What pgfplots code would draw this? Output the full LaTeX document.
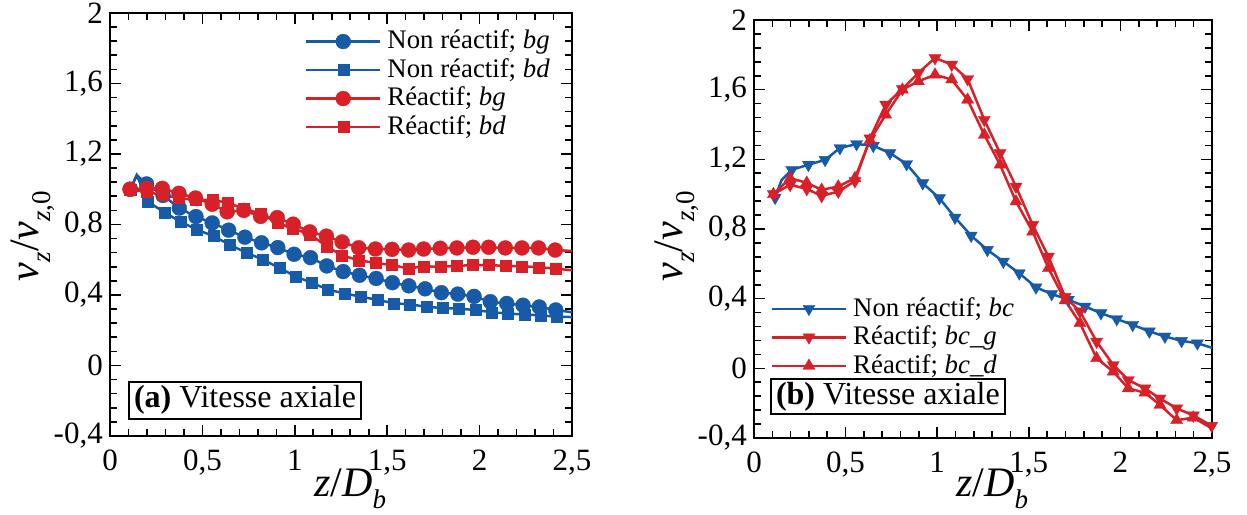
\documentclass[border=0pt]{standalone}
\usepackage{fontspec}
\setmainfont{Liberation Serif}
\usepackage{pgfplots}
\pgfplotsset{compat=1.18}
\usepackage{pgfplotstable}

\definecolor{cblue}{RGB}{22,90,168}
\definecolor{cred}{RGB}{215,32,40}
\newcommand{\tickfont}{\fontsize{31}{37}\selectfont}
\newcommand{\boxfont}{\fontsize{32}{38}\selectfont}
\newcommand{\labfont}{\fontsize{42}{50}\selectfont}
\newcommand{\legfont}{\fontsize{26.8}{32}\selectfont}
\newcommand{\sub}[1]{\raisebox{-12pt}{\fontsize{27}{32}\selectfont #1}}

% ---------- left panel ----------
\pgfplotstableread{
z v
0.110 1.000
0.145 1.080
0.198 1.030
0.287 0.965
0.375 0.893
0.465 0.845
0.553 0.809
0.642 0.768
0.730 0.728
0.820 0.696
0.908 0.669
0.996 0.631
1.085 0.612
1.173 0.565
1.262 0.533
1.350 0.512
1.440 0.494
1.528 0.470
1.617 0.452
1.705 0.435
1.793 0.413
1.882 0.405
1.970 0.392
2.058 0.362
2.147 0.352
2.235 0.342
2.323 0.332
2.412 0.315
2.500 0.302
}\nrbg
\pgfplotstableread{
z v
0.110 1.000
0.145 1.080
0.205 0.930
0.295 0.868
0.383 0.815
0.470 0.771
0.560 0.734
0.650 0.684
0.738 0.640
0.828 0.600
0.916 0.554
1.005 0.505
1.093 0.469
1.180 0.430
1.270 0.409
1.358 0.390
1.446 0.373
1.535 0.353
1.623 0.347
1.712 0.333
1.800 0.326
1.888 0.322
1.977 0.315
2.065 0.302
2.153 0.295
2.242 0.289
2.330 0.285
2.418 0.276
2.500 0.275
}\nrbd
\pgfplotstableread{
z v
0.108 1.000
0.198 1.005
0.283 1.005
0.373 0.977
0.463 0.950
0.553 0.915
0.634 0.872
0.724 0.880
0.815 0.846
0.905 0.839
0.991 0.802
1.081 0.758
1.171 0.734
1.256 0.701
1.346 0.668
1.436 0.661
1.526 0.659
1.616 0.655
1.697 0.661
1.787 0.665
1.877 0.667
1.964 0.671
2.049 0.671
2.139 0.667
2.229 0.667
2.319 0.667
2.409 0.655
2.500 0.650
}\rbg
\pgfplotstableread{
z v
0.108 1.000
0.198 0.985
0.283 0.967
0.373 0.950
0.463 0.940
0.553 0.940
0.634 0.924
0.724 0.890
0.815 0.862
0.905 0.809
0.991 0.777
1.081 0.745
1.171 0.677
1.256 0.624
1.346 0.597
1.436 0.582
1.526 0.570
1.616 0.550
1.697 0.563
1.787 0.560
1.877 0.565
1.964 0.570
2.049 0.570
2.139 0.565
2.229 0.563
2.319 0.558
2.409 0.550
2.500 0.540
}\rbd

% ---------- right panel ----------
\pgfplotstableread{
z v
0.115 0.980
0.150 1.080
0.206 1.140
0.297 1.169
0.388 1.197
0.469 1.265
0.560 1.288
0.651 1.278
0.742 1.236
0.833 1.173
0.921 1.063
1.012 0.977
1.097 0.866
1.185 0.762
1.274 0.680
1.361 0.613
1.448 0.546
1.539 0.465
1.625 0.427
1.716 0.394
1.807 0.355
1.894 0.317
1.980 0.283
2.067 0.250
2.158 0.212
2.243 0.183
2.334 0.158
2.420 0.144
2.500 0.118
}\nrbc
\pgfplotstableread{
z v
0.106 1.000
0.197 1.054
0.288 1.030
0.369 0.990
0.460 1.015
0.551 1.075
0.633 1.320
0.719 1.514
0.810 1.604
0.897 1.696
0.988 1.782
1.079 1.744
1.166 1.661
1.257 1.427
1.343 1.236
1.430 1.044
1.521 0.824
1.607 0.642
1.698 0.410
1.779 0.327
1.870 0.154
1.961 0.019
2.043 -0.067
2.134 -0.115
2.216 -0.173
2.307 -0.230
2.398 -0.270
2.498 -0.330
}\rbcg
\pgfplotstableread{
z v
0.106 1.000
0.197 1.092
0.288 1.065
0.369 1.025
0.460 1.044
0.551 1.092
0.633 1.310
0.719 1.456
0.810 1.600
0.897 1.648
0.988 1.686
1.079 1.658
1.166 1.542
1.257 1.341
1.343 1.169
1.430 0.958
1.521 0.785
1.607 0.575
1.698 0.390
1.779 0.260
1.870 0.058
1.961 -0.019
2.043 -0.115
2.134 -0.140
2.216 -0.210
2.307 -0.298
2.398 -0.283
2.500 -0.345
}\rbcd

\pgfplotsset{panel/.style={
  scale only axis,
  clip=false,
  xmin=0, xmax=2.5, ymin=-0.4, ymax=2,
  xtick={0,0.5,1,1.5,2,2.5},
  xticklabels={0,{0,5},1,{1,5},2,{2,5}},
  ytick={-0.4,0,0.4,0.8,1.2,1.6,2},
  yticklabels={{-0,4},0,{0,4},{0,8},{1,2},{1,6},2},
  minor x tick num=4,
  minor y tick num=4,
  tick align=inside,
  major tick length=11pt,
  minor tick length=7pt,
  axis line style={line width=2pt},
  tick style={line width=1.6pt, black},
  tick label style={font=\tickfont},
  yticklabel style={inner sep=0pt, anchor=east, xshift=-7pt},
  xticklabel style={inner sep=0pt, anchor=north, yshift=-14pt},
  xlabel={\textit{z}/\textit{D}\sub{\textit{b}}},
  ylabel={\textit{v}\sub{\textit{z}}/\textit{v}\sub{\textit{z},0}},
  label style={font=\labfont, inner sep=0pt},
  legend cell align=left,
  legend style={draw=none, fill=none, font=\legfont, row sep=1pt, column sep=5pt,
    inner sep=0pt, outer sep=0pt,
    nodes={inner sep=1pt, text height=20pt, text depth=5.5pt}},
  legend image code/.code={\draw[mark repeat=2,mark phase=2] plot coordinates {(0pt,0pt) (37pt,0pt) (74pt,0pt)};},
}}
\pgfplotsset{
  sline/.style={forget plot, line width=2.5pt, no markers},
  smark/.style={forget plot, only marks, mark options={solid, line width=0.3pt}},
}

\begin{document}
\begin{tikzpicture}
\useasboundingbox (0pt,0pt) rectangle (1247pt,514pt);

\begin{axis}[panel, at={(110pt,78pt)}, anchor=south west, width=462pt, height=423pt,
  xlabel style={at={(axis description cs:0.52,-0.143)}, anchor=base},
  ylabel style={at={(axis description cs:-0.154,0.473)}, anchor=base},
  legend style={at={(axis description cs:0.422,0.965)}, anchor=north west}]
\addlegendimage{cblue, line width=2.5pt, mark=*, mark size=7.5pt, mark options={solid, line width=0.3pt}}
\addlegendentry{Non réactif; \textit{bg}}
\addlegendimage{cblue, line width=2.5pt, mark=square*, mark size=5.5pt, mark options={solid, line width=0.3pt}}
\addlegendentry{Non réactif; \textit{bd}}
\addlegendimage{cred, line width=2.5pt, mark=*, mark size=7.5pt, mark options={solid, line width=0.3pt}}
\addlegendentry{Réactif; \textit{bg}}
\addlegendimage{cred, line width=2.5pt, mark=square*, mark size=5.5pt, mark options={solid, line width=0.3pt}}
\addlegendentry{Réactif; \textit{bd}}

\addplot[sline, cblue] table {\nrbg};
\addplot[smark, cblue, mark=*, mark size=7.5pt, skip coords between index={1}{2}, restrict x to domain=0:2.45] table {\nrbg};
\addplot[sline, cblue] table {\nrbd};
\addplot[smark, cblue, mark=square*, mark size=5.5pt, skip coords between index={1}{2}, restrict x to domain=0:2.45] table {\nrbd};
\addplot[sline, cred] table {\rbg};
\addplot[smark, cred, mark=*, mark size=7.5pt, restrict x to domain=0:2.45] table {\rbg};
\addplot[sline, cred] table {\rbd};
\addplot[smark, cred, mark=square*, mark size=5.5pt, restrict x to domain=0:2.45] table {\rbd};

\node[draw, line width=2pt, anchor=south west, inner xsep=5pt, inner ysep=4pt,
  font=\boxfont, text height=22pt, text depth=7pt, fill=white]
  at (rel axis cs:0.039,0.038) {\textbf{(a)} Vitesse axiale};
\end{axis}

\begin{axis}[panel, at={(754pt,76pt)}, anchor=south west, width=458pt, height=418pt,
  xlabel style={at={(axis description cs:0.52,-0.14)}, anchor=base},
  ylabel style={at={(axis description cs:-0.157,0.483)}, anchor=base},
  legend style={at={(axis description cs:0.0365,0.342)}, anchor=north west}]
\addlegendimage{cblue, line width=2.5pt, mark=triangle*, mark size=7pt, mark options={solid, rotate=180, line width=0.3pt}}
\addlegendentry{Non réactif; \textit{bc}}
\addlegendimage{cred, line width=2.5pt, mark=triangle*, mark size=7pt, mark options={solid, rotate=180, line width=0.3pt}}
\addlegendentry{Réactif; \textit{bc\_g}}
\addlegendimage{cred, line width=2.5pt, mark=triangle*, mark size=7pt, mark options={solid, line width=0.3pt}}
\addlegendentry{Réactif; \textit{bc\_d}}

\addplot[sline, cblue] table {\nrbc};
\addplot[smark, cblue, mark=triangle*, mark size=7pt, mark options={rotate=180}, skip coords between index={1}{2}, restrict x to domain=0:2.45] table {\nrbc};
\addplot[sline, cred] table {\rbcg};
\addplot[smark, cred, mark=triangle*, mark size=7pt, mark options={rotate=180}] table {\rbcg};
\addplot[sline, cred] table {\rbcd};
\addplot[smark, cred, mark=triangle*, mark size=7pt, restrict x to domain=0:2.45] table {\rbcd};

\node[draw, line width=2pt, anchor=south west, inner xsep=5pt, inner ysep=3pt,
  font=\boxfont, text height=22pt, text depth=7pt, fill=white]
  at (rel axis cs:0.035,0.055) {\textbf{(b)} Vitesse axiale};
\end{axis}
\end{tikzpicture}
\end{document}
